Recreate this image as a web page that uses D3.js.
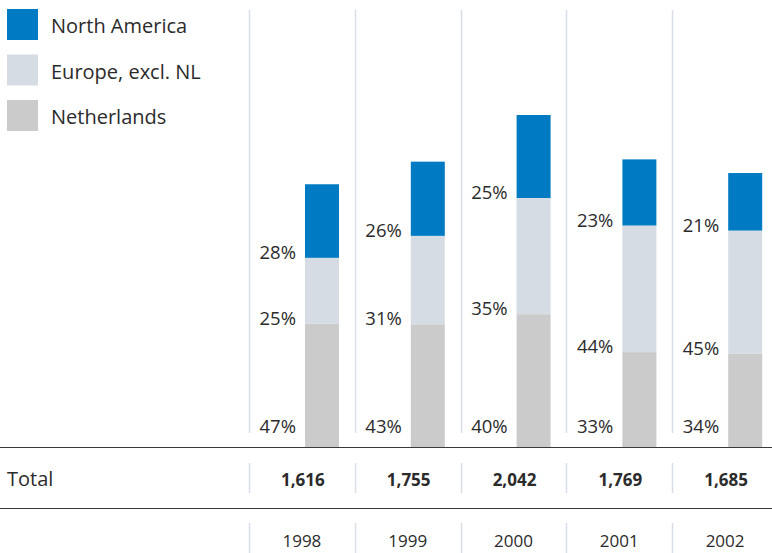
<!DOCTYPE html>
<html>
<head>
<meta charset="utf-8">
<script src="https://cdn.jsdelivr.net/npm/d3@7"></script>
<style>
  body { margin: 0; background: #fff; }
  svg text { font-family: "Open Sans", sans-serif; fill: #2b2b2b; }
</style>
</head>
<body>
<div id="chart"></div>
<script>
// data
var years = ["1998", "1999", "2000", "2001", "2002"];
var totals = [1616, 1755, 2042, 1769, 1685];
var netherlands = [47, 43, 40, 33, 34];
var europe = [25, 31, 35, 44, 45];
var northAmerica = [28, 26, 25, 23, 21];
var seriesNames = ["Netherlands", "Europe, excl. NL", "North America"];
var legendOrder = ["North America", "Europe, excl. NL", "Netherlands"];
var colors = {
    "Netherlands": "#cbcbcb",
    "Europe, excl. NL": "#d5dce4",
    "North America": "#007bc3"
};

var width = 772, height = 553;
var base = 447;

var svg = d3.select("#chart").append("svg")
    .attr("width", width)
    .attr("height", height);

var x = d3.scaleBand().domain(years).range([249, 778]);
var y = d3.scaleLinear().domain([0, d3.max(totals)]).range([base, 115]);

// rows of absolute values per segment
var rows = years.map(function (yr, i) {
    return {
        year: yr,
        total: totals[i],
        "Netherlands": netherlands[i] * totals[i] / 100,
        "Europe, excl. NL": europe[i] * totals[i] / 100,
        "North America": northAmerica[i] * totals[i] / 100,
        pct: {
            "Netherlands": netherlands[i],
            "Europe, excl. NL": europe[i],
            "North America": northAmerica[i]
        }
    };
});

var stacked = d3.stack().keys(seriesNames)(rows);

// vertical grid lines
var grid = svg.append("g").attr("stroke", "#d8dfe8").attr("stroke-width", 1.5);
years.forEach(function (yr) {
    var gx = Math.round(x(yr)) + 0.5;
    grid.append("line").attr("x1", gx).attr("x2", gx).attr("y1", 10).attr("y2", 433);
    grid.append("line").attr("x1", gx).attr("x2", gx).attr("y1", 463).attr("y2", 493);
    grid.append("line").attr("x1", gx).attr("x2", gx).attr("y1", 523).attr("y2", 553);
});

// bars
var barW = 34;
stacked.forEach(function (layer) {
    svg.append("g").attr("fill", colors[layer.key])
        .selectAll("rect")
        .data(layer).enter()
        .append("rect")
        .attr("x", function (d) { return x(d.data.year) + 56; })
        .attr("width", barW)
        .attr("y", function (d) { return y(d[1]); })
        .attr("height", function (d) { return y(d[0]) - y(d[1]); });
});

// percent labels
stacked.forEach(function (layer) {
    svg.append("g")
        .selectAll("text")
        .data(layer).enter()
        .append("text")
        .attr("x", function (d) { return x(d.data.year) + 47; })
        .attr("y", function (d) { return d[0] === 0 ? 433 : y(d[0]) + 1; })
        .attr("text-anchor", "end")
        .attr("font-size", 18.5)
        .text(function (d) { return d.data.pct[layer.key] + "%"; });
});

// horizontal rules
svg.append("line").attr("x1", 0).attr("x2", width).attr("y1", base + 0.5).attr("y2", base + 0.5)
    .attr("stroke", "#3a3a3a").attr("stroke-width", 1.2);
svg.append("line").attr("x1", 0).attr("x2", width).attr("y1", 508.5).attr("y2", 508.5)
    .attr("stroke", "#3a3a3a").attr("stroke-width", 1.2);

// total row
svg.append("text").attr("x", 7).attr("y", 486).attr("font-size", 20).text("Total");
svg.append("g").selectAll("text")
    .data(rows).enter()
    .append("text")
    .attr("x", function (d) { return x(d.year) + x.bandwidth() / 2 + 1; })
    .attr("y", 486)
    .attr("text-anchor", "middle")
    .attr("font-size", 17)
    .attr("font-weight", "bold")
    .text(function (d) { return d3.format(",")(d.total); });

// year row
svg.append("g").selectAll("text")
    .data(years).enter()
    .append("text")
    .attr("x", function (d) { return x(d) + x.bandwidth() / 2; })
    .attr("y", 547)
    .attr("text-anchor", "middle")
    .attr("font-size", 17)
    .text(function (d) { return d; });

// legend
var legend = svg.append("g").selectAll("g")
    .data(legendOrder).enter()
    .append("g")
    .attr("transform", function (d, i) { return "translate(7," + (9 + i * 45.5) + ")"; });
legend.append("rect")
    .attr("width", 31).attr("height", 31)
    .attr("fill", function (d) { return colors[d]; });
legend.append("text")
    .attr("x", 44).attr("y", 24)
    .attr("font-size", 20)
    .text(function (d) { return d; });
</script>
</body>
</html>
